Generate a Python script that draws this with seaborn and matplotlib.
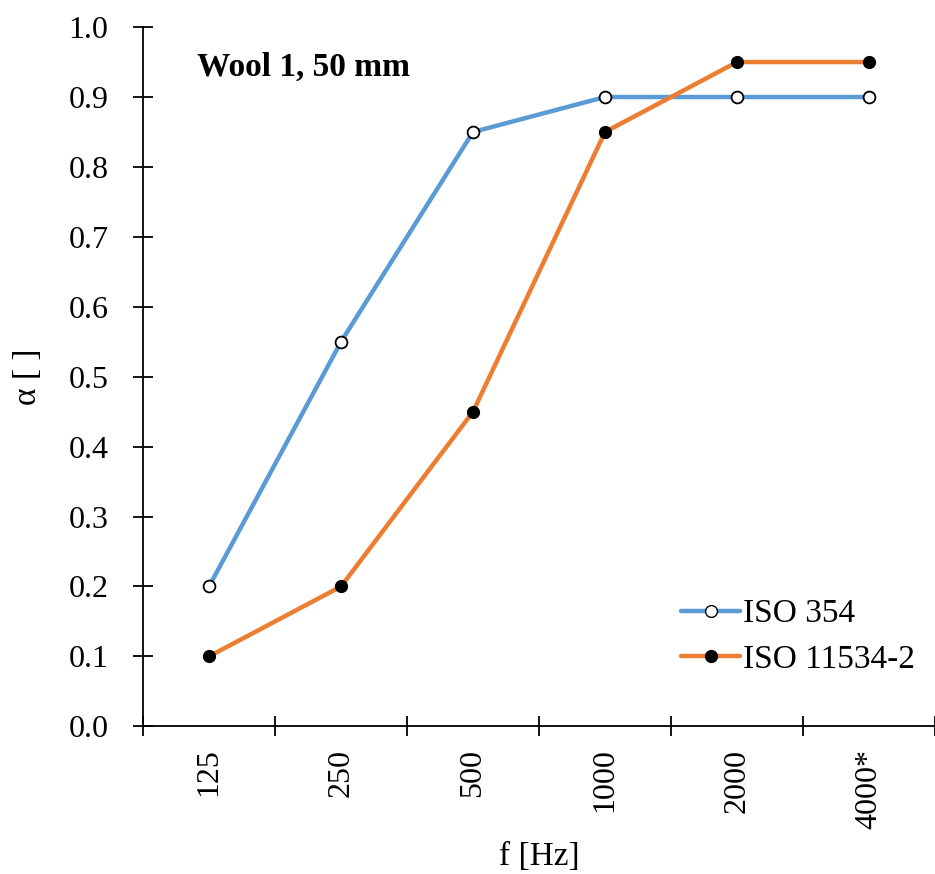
import matplotlib
matplotlib.use("Agg")
import matplotlib.pyplot as plt
import seaborn as sns
import pandas as pd
from matplotlib.ticker import FixedLocator
from matplotlib.lines import Line2D

categories = ["125", "250", "500", "1000", "2000", "4000*"]
iso354 = [0.20, 0.55, 0.85, 0.90, 0.90, 0.90]
iso11534 = [0.10, 0.20, 0.45, 0.85, 0.95, 0.95]
series_names = ["ISO 354", "ISO 11534-2"]
yticks = [0.0, 0.1, 0.2, 0.3, 0.4, 0.5, 0.6, 0.7, 0.8, 0.9, 1.0]

sns.set_style("white")
plt.rcParams["font.family"] = ["Liberation Serif", "DejaVu Serif"]
plt.rcParams["text.color"] = "black"
plt.rcParams["axes.labelcolor"] = "black"
plt.rcParams["xtick.color"] = "black"
plt.rcParams["ytick.color"] = "black"

rows = []
for i, c in enumerate(categories):
    rows.append({"pos": i, "alpha": iso354[i], "series": series_names[0]})
for i, c in enumerate(categories):
    rows.append({"pos": i, "alpha": iso11534[i], "series": series_names[1]})
df = pd.DataFrame(rows)

fig = plt.figure(figsize=(9.35, 8.74), dpi=100)
ax = fig.add_axes([0.153, 0.169, 0.847, 0.800])

palette = {series_names[0]: "#5B9BD5", series_names[1]: "#ED7D31"}
sns.lineplot(data=df, x="pos", y="alpha", hue="series", palette=palette,
             linewidth=3.2, ax=ax, legend=False)
ax.plot(range(len(categories)), iso354, linestyle="none", marker="o",
        markersize=8.5, markerfacecolor="white", markeredgecolor="black",
        markeredgewidth=1.3, zorder=5)
ax.plot(range(len(categories)), iso11534, linestyle="none", marker="o",
        markersize=8.5, markerfacecolor="black", markeredgecolor="black",
        zorder=5)

ax.set_xlim(-0.5, len(categories) - 0.5)
ax.set_ylim(0, 1.0)
ax.set_yticks(yticks)
ax.set_yticklabels([f"{v:.1f}" for v in yticks])
ax.set_xticks(range(len(categories)))
ax.set_xticklabels(categories, rotation=90)
ax.xaxis.set_minor_locator(FixedLocator([i - 0.5 for i in range(len(categories) + 1)]))
ax.tick_params(axis="x", which="both", bottom=True)
ax.tick_params(axis="y", which="both", left=True)
ax.tick_params(axis="x", which="major", length=0, pad=16, labelsize=23)
ax.tick_params(axis="x", which="minor", length=14, width=1.3, direction="inout", color="black")
ax.tick_params(axis="y", which="major", length=14, width=1.3, direction="inout",
               color="black", labelsize=23, pad=18)

for s in ["top", "right"]:
    ax.spines[s].set_visible(False)
for s in ["left", "bottom"]:
    ax.spines[s].set_color("black")
    ax.spines[s].set_linewidth(1.3)

ax.set_xlabel("f [Hz]", fontsize=24, labelpad=9)
ax.set_ylabel("α [ ]", fontsize=24, labelpad=18)

ax.text(0.068, 0.965, "Wool 1, 50 mm", transform=ax.transAxes, fontsize=24,
        fontweight="bold", va="top", ha="left")

handles = [
    Line2D([], [], color="#5B9BD5", linewidth=3.2, marker="o", markersize=8.5,
           markerfacecolor="white", markeredgecolor="black"),
    Line2D([], [], color="#ED7D31", linewidth=3.2, marker="o", markersize=8.5,
           markerfacecolor="black", markeredgecolor="black"),
]
ax.legend(handles, series_names, loc="lower right", bbox_to_anchor=(1.0, 0.045),
          frameon=False, fontsize=24, handlelength=1.75, handletextpad=0.1,
          labelspacing=0.45, borderaxespad=0.2)

fig.savefig("out.png", dpi=100)
